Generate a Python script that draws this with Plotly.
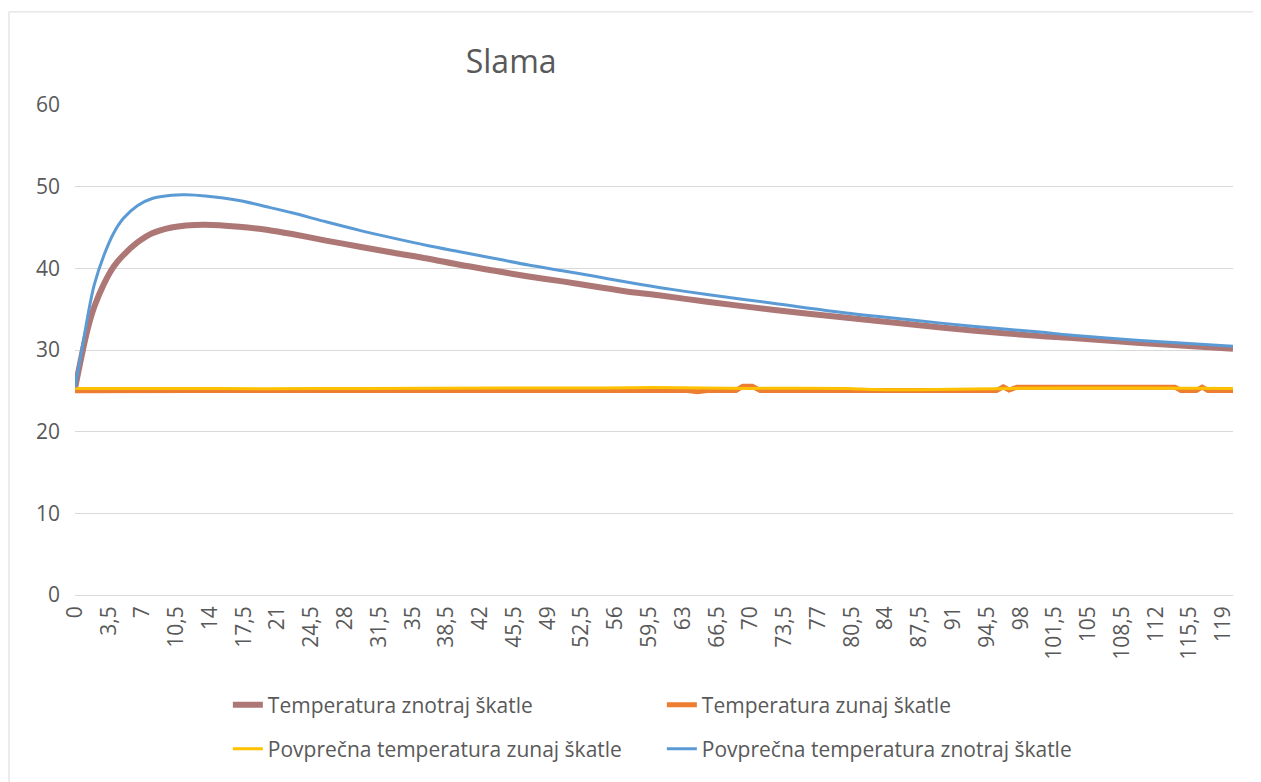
import plotly.graph_objects as go

# ---- data ----
x_inside = [0, 1, 1.5, 2, 3, 4, 5, 6.5, 8, 10, 11.5, 13.5, 17, 20, 22.5, 26, 29.5, 33,
            36.5, 40, 43.5, 47, 50.5, 54, 57, 60.5, 65.5, 72.5, 79.5, 86.5, 93, 100,
            103, 110, 120]
avg_inside = [25.4, 32.0, 35.3, 38.0, 41.6, 44.3, 46.1, 47.7, 48.55, 48.95, 49.0, 48.85,
              48.3, 47.5, 46.8, 45.7, 44.65, 43.7, 42.8, 42.0, 41.2, 40.4, 39.7, 39.0,
              38.35, 37.65, 36.8, 35.7, 34.6, 33.7, 32.9, 32.2, 31.85, 31.2, 30.45]

x_temp_inside = [0, 1, 1.5, 2, 3, 4, 5, 6.5, 8, 10, 11.5, 13.5, 17, 20, 22.5, 26,
                 29.5, 33, 36.5, 40, 43.5, 47, 50.5, 54, 57, 60.5, 65.5, 72.5, 79.5,
                 86.5, 93, 100, 103, 110, 120]
temp_inside = [25.3, 31.0, 33.4, 35.3, 38.1, 40.2, 41.6, 43.2, 44.3, 45.0, 45.25, 45.35,
               45.1, 44.7, 44.2, 43.4, 42.65, 41.9, 41.2, 40.4, 39.7, 39.0, 38.4,
               37.75, 37.2, 36.7, 35.9, 34.9, 34.0, 33.15, 32.4, 31.7, 31.5, 30.9, 30.15]

x_outside = [0, 12, 12.5, 63.5, 64.5, 65.5, 68.5, 69.2, 70.2, 71, 95.5, 96.2, 96.8,
             97.6, 114, 114.6, 116.2, 116.8, 117.4, 120]
temp_outside = [25.0, 24.95, 25.05, 25.05, 24.9, 25.05, 25.05, 25.55, 25.55, 25.05,
                25.05, 25.5, 25.1, 25.45, 25.45, 25.05, 25.05, 25.45, 25.05, 25.05]

x_avg_outside = [0, 10, 20, 30, 45, 55, 60, 70, 80, 83, 89, 97, 110, 120]
avg_outside = [25.3, 25.3, 25.25, 25.3, 25.35, 25.35, 25.4, 25.3, 25.3, 25.15, 25.15,
               25.3, 25.35, 25.3]

names = ["Temperatura znotraj škatle", "Temperatura zunaj škatle",
         "Povprečna temperatura zunaj škatle", "Povprečna temperatura znotraj škatle"]
colors = ["#ad7776", "#ed7d31", "#ffc000", "#5b9bd5"]

FONT = "Open Sans"
TXT = "#595959"
FS = 21

fig = go.Figure()
fig.add_trace(go.Scatter(x=x_temp_inside, y=temp_inside, mode="lines", name=names[0],
                         line=dict(color=colors[0], width=6, shape="spline", smoothing=0.8),
                         legend="legend"))
fig.add_trace(go.Scatter(x=x_outside, y=temp_outside, mode="lines", name=names[1],
                         line=dict(color=colors[1], width=5), legend="legend"))
fig.add_trace(go.Scatter(x=x_avg_outside, y=avg_outside, mode="lines", name=names[2],
                         line=dict(color=colors[2], width=3, shape="spline", smoothing=0.6),
                         legend="legend2"))
fig.add_trace(go.Scatter(x=x_inside, y=avg_inside, mode="lines", name=names[3],
                         line=dict(color=colors[3], width=3, shape="spline", smoothing=0.8),
                         legend="legend2"))

legend_common = dict(orientation="h", xanchor="left", yanchor="middle", x=0.132,
                     entrywidth=389, entrywidthmode="pixels",
                     font=dict(family=FONT, size=FS, color=TXT),
                     bgcolor="rgba(0,0,0,0)")

fig.update_layout(
    width=1261, height=782,
    margin=dict(l=67, r=36, t=97, b=195),
    paper_bgcolor="white", plot_bgcolor="white",
    separators=", ",
    font=dict(family=FONT, size=FS, color=TXT),
    title=dict(text="Slama", x=0.399, xref="container", xanchor="center",
               y=0.931, yref="container", yanchor="middle",
               font=dict(family=FONT, size=32, color=TXT)),
    showlegend=True,
    legend=dict(**legend_common, y=-0.2245),
    legend2=dict(**legend_common, y=-0.3143),
    xaxis=dict(range=[0, 120], tick0=0, dtick=3.5, tickangle=-90, showgrid=False,
               zeroline=False, showline=False, ticks="",
               tickfont=dict(family=FONT, size=FS, color=TXT), ticklabelstandoff=6),
    yaxis=dict(range=[0, 60], dtick=10, showgrid=True, gridcolor="#d9d9d9", gridwidth=1,
               zeroline=True, zerolinecolor="#d9d9d9", zerolinewidth=1,
               showline=False, ticks="", ticklabelstandoff=14,
               tickfont=dict(family=FONT, size=FS, color=TXT)),
    shapes=[dict(type="rect", xref="paper", yref="paper",
                 x0=-0.057, x1=1.04, y0=-0.41, y1=1.19,
                 line=dict(color="#d9d9d9", width=1), fillcolor="rgba(0,0,0,0)",
                 layer="below")],
)

fig.write_html("out.html")
